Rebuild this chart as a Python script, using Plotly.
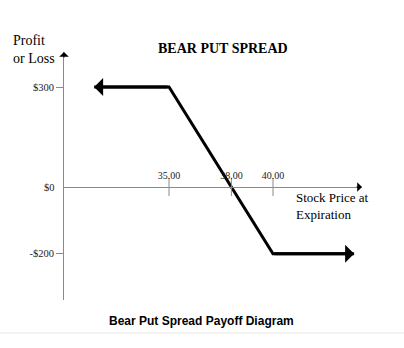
import plotly.graph_objects as go

# ---- data ----
stock_prices = [31.4, 35, 40, 43.9]      # path of payoff line (ends = arrow tips)
payoff = [300, 300, -200, -200]
x_tick_vals = [35, 38, 40]
x_tick_text = ["35.00", "38.00", "40.00"]
y_tick_vals = [300, -200]
y_tick_text = ["$300", "-$200"]
zero_label = "$0"

X_RANGE = [29.95, 44.28]
Y_RANGE = [-339, 405]

AXIS_GRAY = "#8a8a8a"
SERIF = "Liberation Serif, Times New Roman, serif"
SANS = "Liberation Sans, Arial, sans-serif"

fig = go.Figure()

# payoff line
fig.add_trace(go.Scatter(
    x=stock_prices, y=payoff, mode="lines",
    line=dict(color="black", width=3), hoverinfo="skip", showlegend=False,
))

# crossing tick marks on x axis
fig.add_trace(go.Scatter(
    x=x_tick_vals, y=[0] * len(x_tick_vals), mode="markers",
    marker=dict(symbol="line-ns", size=13, line=dict(color=AXIS_GRAY, width=1)),
    hoverinfo="skip", showlegend=False, cliponaxis=False,
))

ypos = (0 - Y_RANGE[0]) / (Y_RANGE[1] - Y_RANGE[0])

fig.update_layout(
    width=404, height=348,
    margin=dict(l=64, r=42, t=52, b=48),
    paper_bgcolor="white", plot_bgcolor="white",
    showlegend=False,
    xaxis=dict(
        range=X_RANGE, anchor="free", position=ypos, side="top",
        showline=True, linecolor=AXIS_GRAY, linewidth=1,
        showgrid=False, zeroline=False,
        tickvals=x_tick_vals, ticktext=x_tick_text,
        ticks="", tickfont=dict(family=SERIF, size=10, color="#222"),
        ticklabelstandoff=4,
    ),
    yaxis=dict(
        range=Y_RANGE, showline=True, linecolor=AXIS_GRAY, linewidth=1,
        showgrid=False, zeroline=False,
        tickvals=y_tick_vals, ticktext=y_tick_text,
        ticks="outside", ticklen=7, tickcolor=AXIS_GRAY,
        tickfont=dict(family=SERIF, size=10.5, color="#222"),
    ),
)

ann = []
# payoff-line arrowheads
ann.append(dict(x=stock_prices[0], y=payoff[0], ax=stock_prices[1], ay=payoff[1],
                xref="x", yref="y", axref="x", ayref="y", text="", showarrow=True,
                arrowhead=1, arrowsize=1.0, arrowwidth=3, arrowcolor="black"))
ann.append(dict(x=stock_prices[-1], y=payoff[-1], ax=stock_prices[-2], ay=payoff[-2],
                xref="x", yref="y", axref="x", ayref="y", text="", showarrow=True,
                arrowhead=1, arrowsize=1.0, arrowwidth=3, arrowcolor="black"))
# axis arrowheads
ann.append(dict(x=0, y=1, xref="paper", yref="paper", ax=0, ay=7, text="",
                showarrow=True, arrowhead=1, arrowsize=1.6, arrowwidth=1, arrowcolor="black"))
ann.append(dict(x=1, y=0, xref="paper", yref="y", ax=-7, ay=0, text="",
                showarrow=True, arrowhead=1, arrowsize=1.6, arrowwidth=1, arrowcolor="black"))
# $0 label
ann.append(dict(x=-0.0235, y=0, xref="paper", yref="y", text=zero_label, showarrow=False,
                xanchor="right", yanchor="middle", font=dict(family=SERIF, size=10.5, color="#222")))
# titles
ann.append(dict(x=0.534, y=1.016, xref="paper", yref="paper", text="<b>BEAR PUT SPREAD</b>",
                showarrow=False, xanchor="center", yanchor="middle",
                font=dict(family=SERIF, size=14, color="black")))
ann.append(dict(x=-0.178, y=1.012, xref="paper", yref="paper", text="Profit<br>or Loss",
                showarrow=False, xanchor="left", yanchor="middle", align="left",
                font=dict(family=SERIF, size=14, color="black")))
ann.append(dict(x=0.772, y=0.381, xref="paper", yref="paper", text="Stock Price at<br>Expiration",
                showarrow=False, xanchor="left", yanchor="middle", align="left",
                font=dict(family=SERIF, size=13, color="black")))
ann.append(dict(x=0.46, y=-0.085, xref="paper", yref="paper", text="<b>Bear Put Spread Payoff Diagram</b>",
                showarrow=False, xanchor="center", yanchor="middle",
                font=dict(family=SANS, size=12, color="black")))
fig.update_layout(annotations=ann)

# separator line under caption
fig.add_shape(type="line", xref="paper", yref="paper",
              x0=-64 / 298, x1=(404 - 64) / 298, y0=(300 - 333) / 248, y1=(300 - 333) / 248,
              line=dict(color="#e6e6e6", width=1))

fig.write_html("out.html")
